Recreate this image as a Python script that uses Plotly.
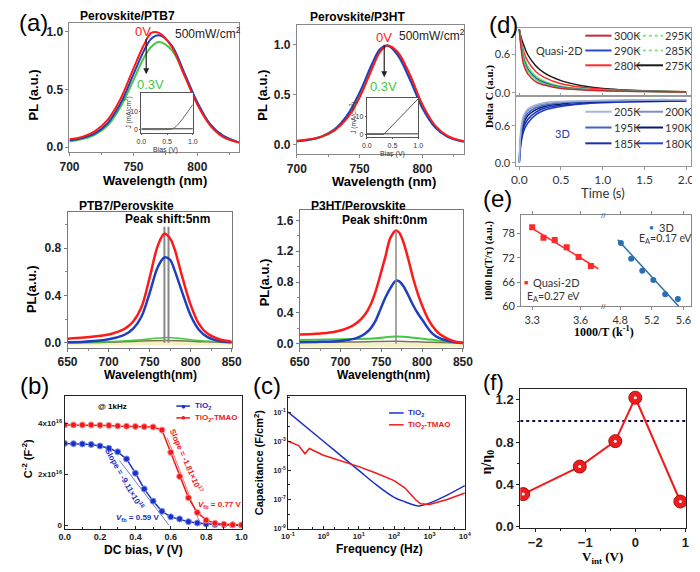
import plotly.graph_objects as go

W, H = 700, 572
SANS = "Liberation Sans, Arial, sans-serif"
SERIF = "Liberation Serif, Times New Roman, serif"
CAL = "Lato, Open Sans, sans-serif"

# ---------------- data ----------------
# (a) top-left: Perovskite/PTB7
atl_wl = [700, 710, 720, 730, 740, 750, 758, 764, 770, 780, 790, 800, 810, 820, 833]
atl_red = [0.07, 0.09, 0.14, 0.24, 0.42, 0.68, 0.88, 0.99, 0.99, 0.87, 0.62, 0.37, 0.19, 0.09, 0.04]
atl_blue = [0.06, 0.08, 0.12, 0.21, 0.38, 0.63, 0.83, 0.94, 0.97, 0.88, 0.64, 0.39, 0.20, 0.10, 0.04]
atl_green = [0.05, 0.07, 0.11, 0.19, 0.35, 0.58, 0.77, 0.87, 0.91, 0.84, 0.62, 0.38, 0.20, 0.10, 0.04]
atl_bias = [0.0, 0.5, 0.6, 0.7, 0.8, 0.9, 1.0]
atl_j = [0.0, 0.0, 0.3, 2.5, 6.0, 10.0, 14.0]

# (a) top-right: Perovskite/P3HT
atr_wl = [700, 710, 720, 730, 740, 750, 760, 766, 772, 780, 790, 800, 810, 820, 833]
atr_red = [0.035, 0.05, 0.08, 0.14, 0.26, 0.47, 0.76, 0.92, 0.99, 0.93, 0.70, 0.40, 0.19, 0.085, 0.03]
atr_blue = [0.03, 0.045, 0.08, 0.15, 0.29, 0.52, 0.81, 0.95, 0.99, 0.90, 0.65, 0.36, 0.17, 0.075, 0.025]
atr_green = [0.03, 0.045, 0.075, 0.14, 0.27, 0.49, 0.78, 0.93, 0.99, 0.91, 0.67, 0.38, 0.18, 0.08, 0.028]
atr_bias = [0.0, 0.33, 1.0]
atr_j = [0.0, 0.0, 20.0]

# (a) bottom-left: PTB7/Perovskite
abl_wl = [650, 670, 690, 700, 710, 720, 730, 740, 750, 760, 768, 775, 780, 790, 800, 810, 820, 835, 850]
abl_red = [0.035, 0.045, 0.06, 0.07, 0.09, 0.12, 0.18, 0.30, 0.55, 0.82, 0.92, 0.88, 0.80, 0.55, 0.32, 0.16, 0.08, 0.03, 0.01]
abl_blue = [0.005, 0.01, 0.02, 0.03, 0.045, 0.07, 0.12, 0.22, 0.42, 0.64, 0.72, 0.70, 0.62, 0.42, 0.23, 0.11, 0.05, 0.015, 0.005]
abl_green_wl = [650, 700, 740, 760, 772, 790, 810, 850]
abl_green = [0.005, 0.01, 0.025, 0.04, 0.045, 0.035, 0.02, 0.005]
abl_olive_wl = [650, 700, 770, 820, 850]
abl_olive = [0.0, 0.005, 0.02, 0.008, 0.0]
abl_peaks = [768, 773]

# (a) bottom-right: P3HT/Perovskite
abr_wl = [650, 670, 690, 702, 712, 721, 730, 737, 743, 749, 755, 761, 768, 772, 777, 783, 789, 795, 801, 806, 812, 820, 828, 840, 850]
abr_red = [0.12, 0.13, 0.15, 0.18, 0.22, 0.28, 0.38, 0.51, 0.68, 0.90, 1.13, 1.37, 1.47, 1.44, 1.32, 1.10, 0.85, 0.64, 0.47, 0.35, 0.24, 0.14, 0.085, 0.03, 0.01]
abr_blue = [0.02, 0.025, 0.03, 0.04, 0.055, 0.08, 0.13, 0.20, 0.30, 0.45, 0.60, 0.72, 0.82, 0.81, 0.75, 0.63, 0.50, 0.39, 0.30, 0.22, 0.14, 0.08, 0.05, 0.02, 0.01]
abr_green_wl = [650, 700, 740, 768, 790, 810, 830, 850]
abr_green = [0.05, 0.06, 0.07, 0.095, 0.08, 0.055, 0.03, 0.02]
abr_olive_wl = [650, 720, 768, 810, 850]
abr_olive = [0.02, 0.025, 0.035, 0.02, 0.01]
abr_peaks = [768]

# (b) Mott-Schottky
b_v = [0.0, 0.05, 0.1, 0.15, 0.2, 0.25, 0.3, 0.35, 0.4, 0.45, 0.5, 0.55, 0.6, 0.65, 0.7, 0.75, 0.8, 0.85, 0.9, 0.95, 1.0]
b_tio2 = [3.22e16, 3.21e16, 3.20e16, 3.18e16, 3.12e16, 3.03e16, 2.89e16, 2.61e16, 2.05e16, 1.43e16, 0.95e16, 0.55e16, 0.33e16, 0.25e16, 0.14e16, 0.09e16, 0.05e16, 0.03e16, 0.02e16, 0.01e16, 0.0]
b_tmao = [3.95e16, 3.95e16, 3.95e16, 3.95e16, 3.94e16, 3.93e16, 3.91e16, 3.90e16, 3.89e16, 3.88e16, 3.87e16, 3.75e16, 2.87e16, 1.92e16, 1.08e16, 0.50e16, 0.20e16, 0.08e16, 0.04e16, 0.02e16, 0.01e16]
b_fit_tio2_v = [0.31, 0.59]
b_fit_tio2_c = [2.55e16, 0.0]
b_fit_tmao_v = [0.58, 0.77]
b_fit_tmao_c = [3.44e16, 0.0]

# (c) capacitance vs frequency
c_f_tio2 = [0.1, 1, 3.16, 10, 31.6, 100, 200, 500, 1000, 3160, 10000]
c_tio2 = [1e-1, 1e-3, 1e-4, 1e-5, 1e-6, 1.4e-7, 7e-8, 3.6e-8, 5.6e-8, 2e-7, 9e-7]
c_f_tmao = [0.1, 0.2, 0.3, 0.4, 1, 3.16, 10, 31.6, 100, 200, 400, 560, 1000, 3160, 10000]
c_tmao = [1e-3, 5e-4, 1.4e-4, 3.2e-4, 1.1e-4, 4.5e-5, 1.8e-5, 6.3e-6, 2e-6, 6.3e-7, 1e-7, 5e-8, 4.5e-8, 1e-7, 2.8e-7]

# (d) transient capacitance
d_t = [0, 0.02, 0.05, 0.1, 0.2, 0.3, 0.5, 0.75, 1.0, 1.5, 2.0]
q_labels = ["300K", "295K", "290K", "285K", "280K", "275K"]
q_300 = [1.0, 0.72, 0.45, 0.30, 0.17, 0.12, 0.066, 0.045, 0.030, 0.018, 0.010]
q_295 = [1.0, 0.76, 0.52, 0.35, 0.21, 0.14, 0.080, 0.050, 0.035, 0.020, 0.012]
q_290 = [1.0, 0.78, 0.55, 0.38, 0.23, 0.16, 0.090, 0.055, 0.038, 0.022, 0.013]
q_285 = [1.0, 0.80, 0.60, 0.42, 0.26, 0.18, 0.100, 0.060, 0.042, 0.024, 0.014]
q_280 = [1.0, 0.84, 0.66, 0.50, 0.33, 0.24, 0.140, 0.085, 0.055, 0.028, 0.015]
q_275 = [1.0, 0.88, 0.76, 0.60, 0.42, 0.31, 0.190, 0.110, 0.066, 0.030, 0.015]
t_labels = ["205K", "200K", "195K", "190K", "185K", "180K"]
t_205 = [0.0, 0.55, 0.76, 0.87, 0.94, 0.97, 0.99, 1.00, 1.01, 1.02, 1.02]
t_200 = [0.0, 0.50, 0.72, 0.84, 0.92, 0.95, 0.98, 0.995, 1.00, 1.01, 1.02]
t_195 = [0.0, 0.45, 0.67, 0.80, 0.89, 0.93, 0.97, 0.99, 1.00, 1.01, 1.01]
t_190 = [0.0, 0.40, 0.62, 0.76, 0.86, 0.91, 0.95, 0.98, 0.99, 1.00, 1.01]
t_185 = [0.0, 0.35, 0.56, 0.70, 0.82, 0.88, 0.93, 0.96, 0.98, 0.99, 1.00]
t_180 = [0.0, 0.30, 0.50, 0.64, 0.78, 0.85, 0.91, 0.95, 0.97, 0.99, 1.00]

# (e) Arrhenius
e_q_x = [3.30, 3.37, 3.44, 3.514, 3.588, 3.664]
e_q_y = [79.6, 77.0, 76.4, 74.6, 72.2, 70.0]
e_q_fit_x = [3.30, 3.71]
e_q_fit_y = [79.3, 69.3]
e_3d_x = [4.81, 4.94, 5.08, 5.22, 5.37, 5.53]
e_3d_y = [75.7, 71.8, 68.8, 66.5, 63.0, 61.8]
e_3d_fit_x = [4.77, 5.54]
e_3d_fit_y = [76.5, 60.0]

# (f)
f_v = [-2.24, -1.11, -0.40, 0.0, 0.90]
f_eta = [0.31, 0.57, 0.81, 1.22, 0.24]
f_ref_x = [-2.3, 1.02]
f_ref_y = [1.0, 1.0]

# ---------------- figure ----------------
fig = go.Figure()
layout = dict(width=W, height=H, margin=dict(l=0, r=0, t=0, b=0),
              paper_bgcolor="white", plot_bgcolor="white", showlegend=False)
annotations = []
shapes = []


def ref(i, k):
    return k if i == 1 else f"{k}{i}"


def add_axes(i, xpx, ypx, xr, yr, xo=None, yo=None, lc="#888888"):
    base = dict(showline=True, mirror=True, linecolor=lc, linewidth=1, showgrid=False,
                zeroline=False, ticks="outside", ticklen=3, tickcolor=lc,
                tickfont=dict(family=SANS, size=12, color="#222", weight="bold"))
    xa = dict(base, domain=[xpx[0] / W, xpx[1] / W], range=xr, anchor=ref(i, "y"))
    ya = dict(base, domain=[1 - ypx[1] / H, 1 - ypx[0] / H], range=yr, anchor=ref(i, "x"))
    if xo:
        xa.update(xo)
    if yo:
        ya.update(yo)
    layout[ref(i, "xaxis")] = xa
    layout[ref(i, "yaxis")] = ya


def tr(i, x, y, color, width=2, dash=None, shape="spline", mode="lines", marker=None, opacity=1):
    kw = dict(x=x, y=y, mode=mode, xaxis=ref(i, "x"), yaxis=ref(i, "y"), opacity=opacity,
              line=dict(color=color, width=width, dash=dash, shape=shape), hoverinfo="skip")
    if marker:
        kw["marker"] = marker
    fig.add_trace(go.Scatter(**kw))


def ann(text, x, y, size=12, color="black", family=SANS, bold=True, angle=0, xa="center", ya="middle"):
    annotations.append(dict(text=text, x=x / W, y=1 - y / H, xref="paper", yref="paper",
                            showarrow=False, textangle=angle, xanchor=xa, yanchor=ya,
                            font=dict(size=size, color=color, family=family,
                                      weight="bold" if bold else "normal")))


def arrow(x, y0, y1):
    annotations.append(dict(x=x / W, y=1 - y1 / H, xref="paper", yref="paper",
                            axref="pixel", ayref="pixel", ax=0, ay=-(y1 - y0),
                            showarrow=True, arrowhead=2, arrowsize=1,
                            arrowwidth=1.2, arrowcolor="#222", text=""))


def hline(x0, x1, y, color, width=2, dash=None):
    shapes.append(dict(type="line", xref="paper", yref="paper", x0=x0 / W, x1=x1 / W,
                       y0=1 - y / H, y1=1 - y / H, line=dict(color=color, width=width, dash=dash)))


RED, BLUE, GREEN = "#ff1a1a", "#1f3fbf", "#44c744"
OLIVE, YEL = "#7a7350", "#f4f0c0"

# ---- (a) TL
add_axes(1, (53, 228), (15, 146), [700, 833], [-0.043, 1.077],
         xo=dict(tickvals=[700, 750, 800], minor=dict(ticks="outside", ticklen=2, dtick=25, tickcolor="#888")),
         yo=dict(tickvals=[0, 0.5, 1.0], tickformat=".1f"))
tr(1, atl_wl, atl_green, GREEN)
tr(1, atl_wl, atl_blue, BLUE)
tr(1, atl_wl, atl_red, RED)
# inset
inset_font = dict(family=SANS, size=7, color="#333")
add_axes(5, (127, 180), (86, 127), [0, 1], [-2.2, 20.5],
         xo=dict(tickvals=[0, 0.5, 1.0], ticktext=["0.0", "0.5", "1.0"], tickfont=inset_font, ticklen=1),
         yo=dict(tickvals=[0, 10], tickfont=inset_font, ticklen=1), lc="#555")
tr(5, [0, 1], [0.4, 0.4], "#333", width=1, shape="linear")
tr(5, atl_bias, atl_j, "#666", width=1)

# ---- (a) TR
add_axes(2, (287, 459), (17, 148), [700, 833], [-0.099, 1.198],
         xo=dict(tickvals=[700, 750, 800], minor=dict(ticks="outside", ticklen=2, dtick=25, tickcolor="#888")),
         yo=dict(tickvals=[0, 0.5, 1.0], tickformat=".1f"))
tr(2, atr_wl, atr_green, GREEN)
tr(2, atr_wl, atr_blue, BLUE)
tr(2, atr_wl, atr_red, RED)
add_axes(6, (359, 412), (91, 131), [0, 1], [-1.7, 20.5],
         xo=dict(tickvals=[0, 0.5, 1.0], ticktext=["0.0", "0.5", "1.0"], tickfont=inset_font, ticklen=1),
         yo=dict(tickvals=[0, 10], tickfont=inset_font, ticklen=1), lc="#555")
tr(6, [0, 1], [0.3, 0.3], "#333", width=1, shape="linear")
tr(6, atr_bias, atr_j, "#555", width=1, shape="linear")

# ---- (a) BL
add_axes(3, (51, 220), (207, 344), [650, 850], [-0.042, 1.1],
         xo=dict(tickvals=[650, 700, 750, 800, 850], minor=dict(ticks="outside", ticklen=2, dtick=25, tickcolor="#888")),
         yo=dict(tickvals=[0, 0.4, 0.8], tickformat=".1f", minor=dict(ticks="outside", ticklen=2, dtick=0.2, tickcolor="#888")),
         lc="#777")
tr(3, [650, 850], [-0.006, -0.006], YEL, width=4, shape="linear")
tr(3, abl_olive_wl, abl_olive, OLIVE, width=1.5)
tr(3, abl_green_wl, abl_green, GREEN, width=1.5)
for p in abl_peaks:
    tr(3, [p, p], [0, 0.98], "#888", width=2, shape="linear")
tr(3, abl_wl, abl_blue, BLUE, width=2.5)
tr(3, abl_wl, abl_red, RED, width=2.5)

# ---- (a) BR
add_axes(4, (290, 458), (205, 344), [650, 850], [-0.051, 1.728],
         xo=dict(tickvals=[650, 700, 750, 800, 850], minor=dict(ticks="outside", ticklen=2, dtick=25, tickcolor="#888")),
         yo=dict(tickvals=[0, 0.4, 0.8, 1.2, 1.6], tickformat=".1f", minor=dict(ticks="outside", ticklen=2, dtick=0.2, tickcolor="#888")),
         lc="#777")
tr(4, [650, 850], [-0.012, -0.012], YEL, width=4, shape="linear")
tr(4, abr_olive_wl, abr_olive, OLIVE, width=1.5)
tr(4, abr_green_wl, abr_green, GREEN, width=2)
tr(4, abr_wl, abr_blue, BLUE, width=2.5)
tr(4, abr_wl, abr_red, RED, width=2.5)
for p in abr_peaks:
    tr(4, [p, p], [0, 1.47], "#888", width=1.5, shape="linear")

# ---- (b)
bfont = dict(family=SANS, size=9, color="#222", weight="bold")
add_axes(7, (48, 231), (393, 527), [0, 1.005], [-0.13e16, 5.08e16],
         xo=dict(tickvals=[0, 0.2, 0.4, 0.6, 0.8, 1.0], tickformat=".1f", tickfont=bfont, ticks="inside",
                 minor=dict(ticks="inside", ticklen=2, dtick=0.1, tickcolor="#222")),
         yo=dict(tickvals=[0, 2e16, 4e16], ticktext=["0", "2x10<sup>16</sup>", "4x10<sup>16</sup>"],
                 tickfont=dict(family=SANS, size=8, color="#222", weight="bold"), ticks="inside"),
         lc="#222")
tr(7, b_fit_tio2_v, b_fit_tio2_c, "#7080c0", width=1, shape="linear")
tr(7, b_fit_tmao_v, b_fit_tmao_c, "#f07070", width=1, shape="linear")
tr(7, b_v, b_tio2, "#1a2fc8", width=1.5, shape="linear", mode="lines+markers",
   marker=dict(size=6, color="#1a2fc8", line=dict(color="#7f8fe8", width=1)))
tr(7, b_v, b_tmao, "#f01818", width=1.5, shape="linear", mode="lines+markers",
   marker=dict(size=6, color="#f01818", line=dict(color="#ff9090", width=1)))

# ---- (c)
add_axes(8, (278, 460), (393, 527), [-1, 4], [-9, 0.1],
         xo=dict(type="log", tickvals=[0.1, 1, 10, 100, 1000, 10000],
                 ticktext=["10<sup>-1</sup>", "10<sup>0</sup>", "10<sup>1</sup>", "10<sup>2</sup>", "10<sup>3</sup>", "10<sup>4</sup>"],
                 tickfont=dict(family=SANS, size=8, color="#222", weight="bold"), ticks="inside",
                 minor=dict(ticks="inside", ticklen=2, tickcolor="#222")),
         yo=dict(type="log", tickvals=[1e-9, 1e-7, 1e-5, 1e-3, 1e-1],
                 ticktext=["10<sup>-9</sup>", "10<sup>-7</sup>", "10<sup>-5</sup>", "10<sup>-3</sup>", "10<sup>-1</sup>"],
                 tickfont=dict(family=SANS, size=7, color="#222", weight="bold"), ticks="inside",
                 minor=dict(ticks="inside", ticklen=2, tickcolor="#222", tickvals=[1e-8, 1e-6, 1e-4, 1e-2, 1])),
         lc="#222")
tr(8, c_f_tio2, c_tio2, "#1a2fc8", width=1.5)
tr(8, c_f_tmao, c_tmao, "#f01818", width=1.5, shape="linear")

# ---- (d)
dfont = dict(family=CAL, size=11, color="#333", weight="normal")
add_axes(9, (513, 693), (20, 89), [-0.035, 2.06], [-0.05, 1.02],
         xo=dict(tickvals=[0, 0.5, 1.0, 1.5, 2.0], showticklabels=False, ticks="inside"),
         yo=dict(tickvals=[0, 0.6], tickformat=".1f", tickfont=dfont), lc="#999")
add_axes(10, (513, 693), (89, 160), [-0.035, 2.06], [-0.05, 1.08],
         xo=dict(tickvals=[0, 0.5, 1.0, 1.5, 2.0], tickformat=".1f", tickfont=dict(dfont, size=12)),
         yo=dict(tickvals=[0, 0.6], tickformat=".1f", tickfont=dfont), lc="#999")
q_series = [q_275, q_280, q_285, q_290, q_295, q_300]
q_colors = ["#1a1a1a", "#ff2a2a", "#6fe86f", "#2a4ad0", "#4fd84f", "#c8283a"]
for s, c in zip(q_series, q_colors):
    tr(9, d_t, s, c, width=1.5)
t_series = [t_180, t_185, t_190, t_195, t_200, t_205]
t_colors = ["#1f3fd8", "#1a30b0", "#0a1a70", "#3c64c8", "#7c8fc8", "#a8b4d4"]
for s, c in zip(t_series, t_colors):
    tr(10, d_t, s, c, width=1.5)

# legend (d)
q_leg_colors = ["#c8283a", "#7de87d", "#2a4ad0", "#7de87d", "#ff2a2a", "#1a1a1a"]
q_leg_dash = [None, "dot", None, "dot", None, None]
rows_q = [28, 43, 58]
rows_t = [105, 121, 137]
t_leg_colors = ["#a8b4d4", "#7c8fc8", "#3c64c8", "#0a1a70", "#1a30b0", "#1f3fd8"]
for k in range(6):
    r, col = divmod(k, 2)
    x0 = 584 if col == 0 else 637
    hline(x0, x0 + 27, rows_q[r], q_leg_colors[k], width=2, dash=q_leg_dash[k])
    ann(q_labels[k], x0 + 27, rows_q[r], size=11, family=CAL, bold=False, xa="left", color="#333")
    hline(x0, x0 + 27, rows_t[r], t_leg_colors[k], width=2)
    ann(t_labels[k], x0 + 27, rows_t[r], size=11, family=CAL, bold=False, xa="left", color="#333")
ann("Quasi-2D", 557, 43, size=11, family=CAL, bold=False, color="#333")
ann("3D", 560, 127, size=11, family=CAL, bold=False, color="#2a3ab0")

# ---- (e)
efont = dict(family=CAL, size=11, color="#333", weight="normal")
add_axes(11, (518, 603), (210, 302), [3.232, 3.744], [60, 82.5],
         xo=dict(tickvals=[3.3, 3.6], tickformat=".1f", tickfont=efont, mirror="allticks", ticks="outside"),
         yo=dict(tickvals=[60, 66, 72, 78], tickfont=efont, mirror=False), lc="#888")
add_axes(12, (603, 693), (210, 302), [4.594, 5.698], [60, 82.5],
         xo=dict(tickvals=[4.8, 5.2, 5.6], tickformat=".1f", tickfont=efont, mirror="allticks", ticks="outside"),
         yo=dict(showticklabels=False, ticks="", side="right", mirror=False), lc="#888")
tr(11, e_q_fit_x, e_q_fit_y, "#ff2a2a", width=1.5, shape="linear")
tr(11, e_q_x, e_q_y, "#ff2a2a", mode="markers", marker=dict(symbol="square", size=6, color="#ff2a2a"))
tr(12, e_3d_fit_x, e_3d_fit_y, "#2a70b0", width=1.5, shape="linear")
tr(12, e_3d_x, e_3d_y, "#2a70b0", mode="markers", marker=dict(symbol="circle", size=6, color="#2a70b0"))
ann("//", 603, 210, size=8, family=SANS, bold=False, color="#555")
ann("//", 603, 302, size=8, family=SANS, bold=False, color="#555")
ann("\u25CF", 652, 222, size=8, family=SANS, bold=False, color="#2a70b0")
ann("3D", 658, 222, size=11, family=CAL, bold=False, color="#333", xa="left")
ann("E<sub>A</sub>=0.17 eV", 637, 234, size=10.5, family=CAL, bold=False, color="#333", xa="left")
ann("\u25A0", 523, 278, size=7, family=SANS, bold=False, color="#ff2a2a")
ann("Quasi-2D", 528, 278, size=11, family=CAL, bold=False, color="#333", xa="left")
ann("E<sub>A</sub>=0.27 eV", 522, 293, size=10.5, family=CAL, bold=False, color="#333", xa="left")

# ---- (f)
add_axes(13, (517, 688), (386, 526), [-2.3, 1.02], [-0.006, 1.3],
         xo=dict(tickvals=[-2, -1, 0, 1], tickfont=dict(family=SANS, size=13, color="#222", weight="bold"),
                 minor=dict(ticks="outside", ticklen=2, dtick=0.5, tickcolor="#222")),
         yo=dict(tickvals=[0, 0.4, 0.8, 1.2], tickformat=".1f",
                 tickfont=dict(family=SANS, size=13, color="#222", weight="bold"),
                 minor=dict(ticks="outside", ticklen=2, dtick=0.2, tickcolor="#222")),
         lc="#222")
tr(13, f_ref_x, f_ref_y, "#111144", width=2, dash="dot", shape="linear")
tr(13, f_v, f_eta, "#ee1c1c", width=2, shape="linear", mode="lines+markers",
   marker=dict(size=13, color="#ee1c1c", line=dict(color="#b01010", width=1)))
tr(13, f_v, f_eta, "white", mode="markers", marker=dict(size=3, color="white"))

# ---------------- text ----------------
for t, x, y, s in [("(a)", 16, 15, 24), ("(b)", 17, 382, 24), ("(c)", 256, 382, 24),
                   ("(d)", 500, 17, 24), ("(e)", 494, 193, 24), ("(f)", 490, 379, 22)]:
    ann(t, x, y, size=s, bold=False, color="black")

ann("Perovskite/PTB7", 113, 8, size=12)
ann("Perovskite/P3HT", 349, 9, size=12)
ann("PTB7/Perovskite", 112, 200, size=12)
ann("P3HT/Perovskite", 351, 200, size=12)
ann("500mW/cm<sup>2</sup>", 196, 25, size=12, bold=False, color="#222")
ann("500mW/cm<sup>2</sup>", 426, 27, size=12, bold=False, color="#222")
ann("0V", 129, 24, size=13, bold=False, color=RED)
ann("0.3V", 136, 77, size=13, bold=False, color=GREEN)
ann("0V", 377, 30, size=13, bold=False, color=RED)
ann("0.3V", 376, 79, size=13, bold=False, color=GREEN)
arrow(132, 30, 67)
arrow(377, 36, 70)
ann("J (mA/cm<sup>2</sup>)", 114, 106, size=6.5, bold=False, angle=-90, color="#333")
ann("Bias (V)", 152, 144, size=7, bold=False, color="#333")
ann("J (mA/cm<sup>2</sup>)", 346, 111, size=6.5, bold=False, angle=-90, color="#333")
ann("Bias (V)", 386, 148, size=7, bold=False, color="#333")
ann("Peak shift:5nm", 154, 214, size=12)
ann("Peak shift:0nm", 377, 215, size=12)
ann("Wavelength (nm)", 141, 175, size=13)
ann("Wavelength (nm)", 377, 176, size=13)
ann("PL (a.u.)", 16, 88, size=13, angle=-90)
ann("PL (a.u.)", 252, 88, size=13, angle=-90)
ann("Wavelength(nm)", 136, 372, size=12)
ann("Wavelength(nm)", 376, 372, size=12)
ann("PL(a.u.)", 14, 285, size=13, angle=-90)
ann("PL(a.u.)", 254, 278, size=13, angle=-90)

# (b) texts
ann("@ 1kHz", 97, 403, size=8)
hline(163, 177, 403, "#1a2fc8", width=1.5)
ann("\u25CF", 170, 403, size=8, bold=False, color="#1a2fc8")
ann("TiO<sub>2</sub>", 180, 403, size=8, color="#1a2fc8", xa="left")
hline(163, 177, 415, "#f01818", width=1.5)
ann("\u25CF", 170, 415, size=8, bold=False, color="#f01818")
ann("TiO<sub>2</sub>-TMAO", 180, 415, size=8, color="#f01818", xa="left")
ann("Slope = -9.11\u00d710<sup>16</sup>", 110, 477, size=8, color="#1a2fc8", angle=60)
ann("Slope = -1.81\u00d710<sup>17</sup>", 173, 458, size=8, color="#f01818", angle=66)
ann("<i>V</i><sub>fb</sub> = 0.77 V", 208, 503, size=8, color="#f01818")
ann("<i>V</i><sub>fb</sub> = 0.59 V", 124, 516, size=8, color="#1a2fc8")
ann("DC bias, <i>V</i> (V)", 129, 549, size=12)
ann("C<sup>-2</sup> (F<sup>-2</sup>)", 10, 456, size=11, angle=-90)

# (c) texts
hline(382, 397, 410, "#1a2fc8", width=1.5)
ann("TiO<sub>2</sub>", 399, 410, size=8, color="#1a2fc8", xa="left")
hline(382, 397, 422, "#f01818", width=1.5)
ann("TiO<sub>2</sub>-TMAO", 399, 422, size=8, color="#f01818", xa="left")
ann("Capacitance (F/cm<sup>2</sup>)", 248, 460, size=11, angle=-90)
ann("Frequency (Hz)", 372, 548, size=12)

# (d) titles
ann("Delta C (a.u.)", 486, 90, size=11, family=SERIF, angle=-90)
ann("Time (s)", 602, 187, size=13, family=CAL, bold=False, color="#333")

# (e) titles
ann("1000 ln(T/\u03c4) (a.u.)", 485, 256, size=10.5, family=SERIF, angle=-90)
ann("1000/T (k<sup>-1</sup>)", 603, 328, size=12, family=SERIF)

# (f) titles
ann("\u03b7/\u03b7<sub>0</sub>", 483, 460, size=14, family=SERIF, angle=-90)
ann("V<sub>int</sub> (V)", 602, 556, size=13, family=SERIF)

layout["annotations"] = annotations
layout["shapes"] = shapes
fig.update_layout(**layout)
fig.write_html("out.html")
